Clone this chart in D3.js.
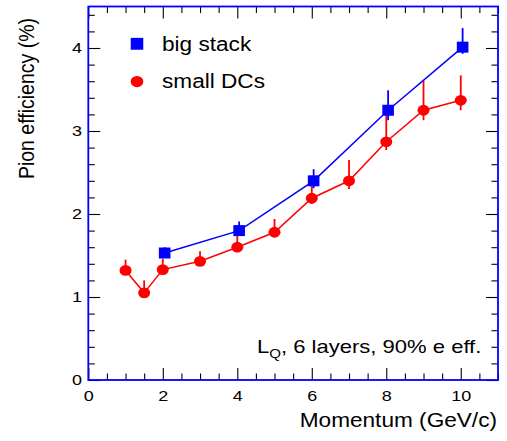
<!DOCTYPE html>
<html>
<head>
<meta charset="utf-8">
<script src="https://cdn.jsdelivr.net/npm/d3@7"></script>
<style>
  body { margin: 0; background: #fff; }
  text { font-family: "Liberation Sans", Arial, sans-serif; fill: #000; }
</style>
</head>
<body>
<svg id="chart" width="507" height="441"></svg>
<script>
// big stack (squares)
var bigP      = [2.05, 4.05, 6.05, 8.05, 10.05];
var bigEff    = [1.53, 1.80, 2.40, 3.25, 4.01];
var bigErrUp  = [0.07, 0.11, 0.14, 0.24, 0.23];
var bigErrDn  = [0.05, 0.05, 0.09, 0.12, 0.08];

// small DCs (circles)
var smallP     = [1, 1.5, 2, 3, 4, 5, 6, 7, 8, 9, 10];
var smallEff   = [1.32, 1.05, 1.33, 1.43, 1.60, 1.78, 2.19, 2.40, 2.87, 3.25, 3.37];
var smallErrUp = [0.13, 0.15, 0.13, 0.12, 0.14, 0.16, 0.15, 0.25, 0.33, 0.36, 0.30];
var smallErrDn = [0.05, 0.05, 0.05, 0.05, 0.06, 0.05, 0.07, 0.10, 0.10, 0.12, 0.12];

var xMajor = [0, 2, 4, 6, 8, 10];
var yMajor = [0, 1, 2, 3, 4];

var SX = 1.16; // picture is stretched a bit horizontally

var svg = d3.select("#chart");
var mLeft = 88.3, mRight = 498, mTop = 6.5, mBottom = 380;

var x = d3.scaleLinear().domain([0, 11]).range([mLeft, mRight]);
var y = d3.scaleLinear().domain([0, 4.5]).range([mBottom, mTop]);

var xMinor = d3.range(0, 11.01, 0.5).filter(function(v) { return xMajor.indexOf(v) < 0; });
var yMinor = d3.range(0, 4.501, 0.2).map(function(v) { return +v.toFixed(1); })
               .filter(function(v) { return yMajor.indexOf(v) < 0 && v < 4.5; });

function stext(g, str, tx, ty, size, anchor) {
  return g.append("text")
          .attr("transform", "translate(" + tx + "," + ty + ") scale(" + SX + ",1)")
          .attr("font-size", size)
          .attr("text-anchor", anchor || "start")
          .text(str);
}

// axes (ticks pointing inwards)
svg.append("g").attr("transform", "translate(0," + mBottom + ")")
  .call(d3.axisBottom(x).tickValues(xMajor).tickSize(-12).tickPadding(10.2).tickFormat(d3.format("d")));
svg.append("g").attr("transform", "translate(0," + mBottom + ")")
  .call(d3.axisBottom(x).tickValues(xMinor).tickSize(-6.5).tickFormat(""));
svg.append("g").attr("transform", "translate(0," + mTop + ")")
  .call(d3.axisTop(x).tickValues(xMajor).tickSize(-12).tickFormat(""));
svg.append("g").attr("transform", "translate(0," + mTop + ")")
  .call(d3.axisTop(x).tickValues(xMinor).tickSize(-6.5).tickFormat(""));

svg.append("g").attr("transform", "translate(" + mLeft + ",0)")
  .call(d3.axisLeft(y).tickValues(yMajor).tickSize(-12).tickPadding(5.4).tickFormat(d3.format("d")));
svg.append("g").attr("transform", "translate(" + mLeft + ",0)")
  .call(d3.axisLeft(y).tickValues(yMinor).tickSize(-6.5).tickFormat(""));
svg.append("g").attr("transform", "translate(" + mRight + ",0)")
  .call(d3.axisRight(y).tickValues(yMajor).tickSize(-12).tickFormat(""));
svg.append("g").attr("transform", "translate(" + mRight + ",0)")
  .call(d3.axisRight(y).tickValues(yMinor).tickSize(-6.5).tickFormat(""));

svg.selectAll(".domain").remove();
svg.selectAll(".tick line").attr("stroke", "#000").attr("stroke-width", 1.1);
svg.selectAll(".tick text")
   .attr("font-family", "Liberation Sans, Arial, sans-serif")
   .attr("font-size", 15.5)
   .attr("fill", "#000")
   .attr("transform", "scale(" + SX + ",1)");

// frame
svg.append("rect")
   .attr("x", mLeft).attr("y", mTop)
   .attr("width", mRight - mLeft).attr("height", mBottom - mTop)
   .attr("fill", "none").attr("stroke", "#0000ff").attr("stroke-width", 1.8);

// axis titles
stext(svg, "Momentum (GeV/c)", 497, 427, 19.5, "end");
svg.append("text")
   .attr("transform", "translate(34,18) scale(" + SX + ",1) rotate(-90)")
   .attr("font-size", 19.5)
   .attr("text-anchor", "end")
   .text("Pion efficiency (%)");

function draw_series(px, eff, up, dn, color, mark) {
  var pts = px.map(function(p, i) { return {p: p, v: eff[i], up: up[i], dn: dn[i]}; });
  var g = svg.append("g");

  g.append("path")
   .datum(pts)
   .attr("fill", "none")
   .attr("stroke", color)
   .attr("stroke-width", 1.5)
   .attr("d", d3.line().x(function(d) { return x(d.p); }).y(function(d) { return y(d.v); }));

  g.selectAll("line.err").data(pts).enter().append("line")
   .attr("class", "err")
   .attr("x1", function(d) { return x(d.p); })
   .attr("x2", function(d) { return x(d.p); })
   .attr("y1", function(d) { return y(d.v + d.up); })
   .attr("y2", function(d) { return y(d.v - d.dn); })
   .attr("stroke", color)
   .attr("stroke-width", 1.8);

  var m = g.selectAll("g.mark").data(pts).enter().append("g")
   .attr("class", "mark")
   .attr("transform", function(d) { return "translate(" + x(d.p) + "," + y(d.v) + ")"; });
  add_mark(m, mark, color, 1);
}

function add_mark(sel, type, color, k) {
  switch(type) {
    case "rect":
      sel.append("rect")
         .attr("x", -5.8 * k).attr("y", -5.5 * k)
         .attr("width", 11.6 * k).attr("height", 11 * k)
         .attr("fill", color);
      break;
    case "circle":
      sel.append("ellipse")
         .attr("rx", 6 * k).attr("ry", 5.4 * k)
         .attr("fill", color);
      break;
  }
}

draw_series(smallP, smallEff, smallErrUp, smallErrDn, "#ff0000", "circle");
draw_series(bigP, bigEff, bigErrUp, bigErrDn, "#0000ff", "rect");

// legend
var leg = svg.append("g");
add_mark(leg.append("g").attr("transform", "translate(137,43.8)"), "rect", "#0000ff", 1.08);
add_mark(leg.append("g").attr("transform", "translate(137,81.6)"), "circle", "#ff0000", 1.05);
stext(leg, "big stack", 162, 51, 19.5);
stext(leg, "small DCs", 162, 88, 19.5);

// annotation
var ann = svg.append("text")
   .attr("transform", "translate(257,353) scale(" + SX + ",1)")
   .attr("font-size", 19);
ann.append("tspan").text("L");
ann.append("tspan").attr("font-size", 13).attr("dy", 5).text("Q");
ann.append("tspan").attr("dy", -5).text(", 6 layers, 90% e eff.");
</script>
</body>
</html>
